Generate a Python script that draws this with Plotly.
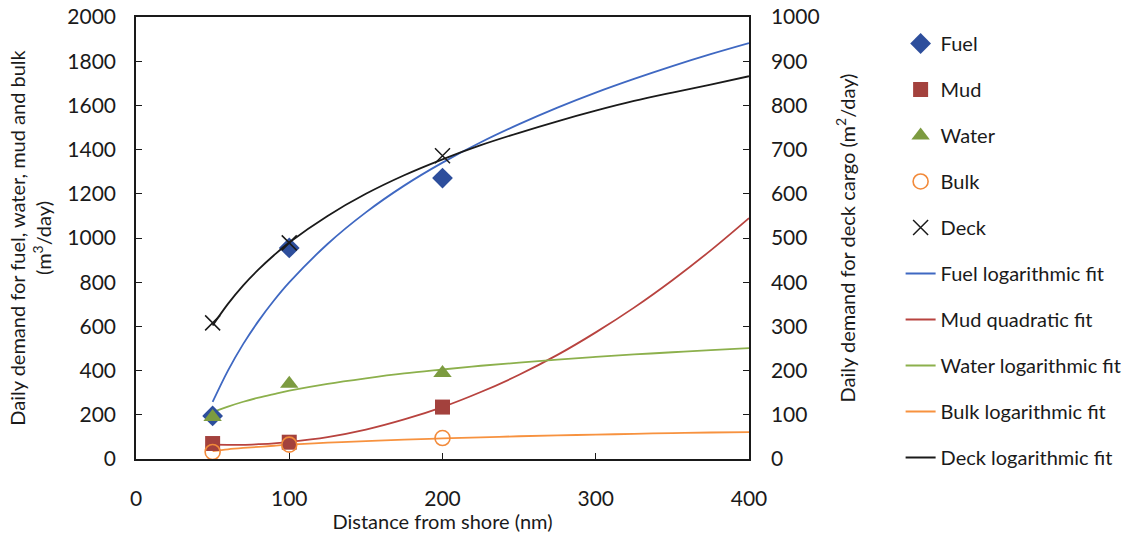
import plotly.graph_objects as go

# Measured points
dist = [50, 100, 200]
fuel = [195, 955, 1271]
mud = [70, 76, 235]
water = [190, 340, 389]
bulk = [32, 65, 95]
deck = [308, 489, 686]

# Fit curves
fit_x = [50, 60, 70, 80, 90, 100, 125, 150, 175, 200, 225, 250, 275, 300, 325, 350, 375, 400]
fuel_fit = [258, 400, 521, 625, 717, 799, 973, 1116, 1237, 1341, 1433, 1515, 1590, 1658, 1720, 1778, 1832, 1882]
mud_fit = [65, 64, 64, 67, 71, 77, 99, 133, 179, 235, 303, 381, 471, 573, 685, 809, 944, 1090]
water_fit = [212, 237, 259, 278, 294, 309, 340, 365, 387, 405, 422, 436, 450, 462, 473, 483, 493, 502]
bulk_fit = [36, 44, 50, 55, 60, 65, 74, 81, 88, 93, 98, 103, 107, 110, 114, 117, 120, 122]
deck_fit = [302, 351, 393, 429, 461, 490, 550, 600, 642, 678, 710, 738, 764, 788, 810, 829, 847, 866]

x_ticks = [0, 100, 200, 300, 400]

FONT = "Lato"
TXT = "#1a1a1a"
FS = 20

fig = go.Figure()

fits = [
    ("Fuel logarithmic fit", fuel_fit, "#3F68C2", "y"),
    ("Mud quadratic fit", mud_fit, "#B8433F", "y"),
    ("Water logarithmic fit", water_fit, "#8CB04C", "y"),
    ("Bulk logarithmic fit", bulk_fit, "#F7923F", "y"),
    ("Deck logarithmic fit", deck_fit, "#1a1a1a", "y2"),
]
for i, (name, vals, col, ax) in enumerate(fits):
    fig.add_trace(go.Scatter(x=fit_x, y=vals, mode="lines", name=name, yaxis=ax,
                             line=dict(color=col, width=1.8, shape="spline"),
                             legendgroup=name, legendrank=10 + i))

markers = [
    ("Fuel", fuel, dict(symbol="diamond", color="#2D4E9C", size=16), "y"),
    ("Mud", mud, dict(symbol="square", color="#A3413D", size=15), "y"),
    ("Water", water, dict(symbol="triangle-up", color="#7C9B40", size=16), "y"),
    ("Bulk", bulk, dict(symbol="circle-open", color="#F28A3A", size=15, line=dict(width=1.6)), "y"),
    ("Deck", deck, dict(symbol="x-thin-open", color="#1a1a1a", size=15, line=dict(width=1.5)), "y2"),
]
for i, (name, vals, mk, ax) in enumerate(markers):
    fig.add_trace(go.Scatter(x=dist, y=vals, mode="markers", name=name, yaxis=ax,
                             marker=mk, legendgroup=name, legendrank=i))

axis_common = dict(showline=True, linecolor="#1a1a1a", linewidth=1.5, ticks="inside",
                   ticklen=6, tickcolor="#1a1a1a", showgrid=False, zeroline=False,
                   automargin=False,
                   tickfont=dict(family=FONT, size=21, color=TXT))

fig.update_layout(
    width=1130, height=533,
    margin=dict(l=136, r=381, t=17, b=74),
    paper_bgcolor="white", plot_bgcolor="white",
    font=dict(family=FONT, size=FS, color=TXT),
    xaxis=dict(range=[0, 400], tickvals=x_ticks, mirror=True, ticklabelstandoff=20,
               title=dict(text="Distance from shore (nm)", standoff=6,
                          font=dict(family=FONT, size=FS, color=TXT)),
               **axis_common),
    yaxis=dict(range=[0, 2000], dtick=200, ticklabelstandoff=14,
               title=dict(text="Daily demand for fuel, water, mud and bulk<br>(m<sup>3</sup>/day)",
                          standoff=10, font=dict(family=FONT, size=FS, color=TXT)),
               **axis_common),
    yaxis2=dict(range=[0, 1000], dtick=100, overlaying="y", side="right", ticklabelstandoff=16,
                title=dict(text="Daily demand for deck cargo (m<sup>2</sup>/day)", standoff=22,
                           font=dict(family=FONT, size=FS, color=TXT)),
                **axis_common),
    legend=dict(x=0.797, y=0.955, xref="container", yref="container",
                xanchor="left", yanchor="top", maxheight=530,
                traceorder="grouped", tracegroupgap=17,
                font=dict(family=FONT, size=FS, color=TXT), bgcolor="rgba(0,0,0,0)"),
    showlegend=True,
)

fig.write_html("out.html")
